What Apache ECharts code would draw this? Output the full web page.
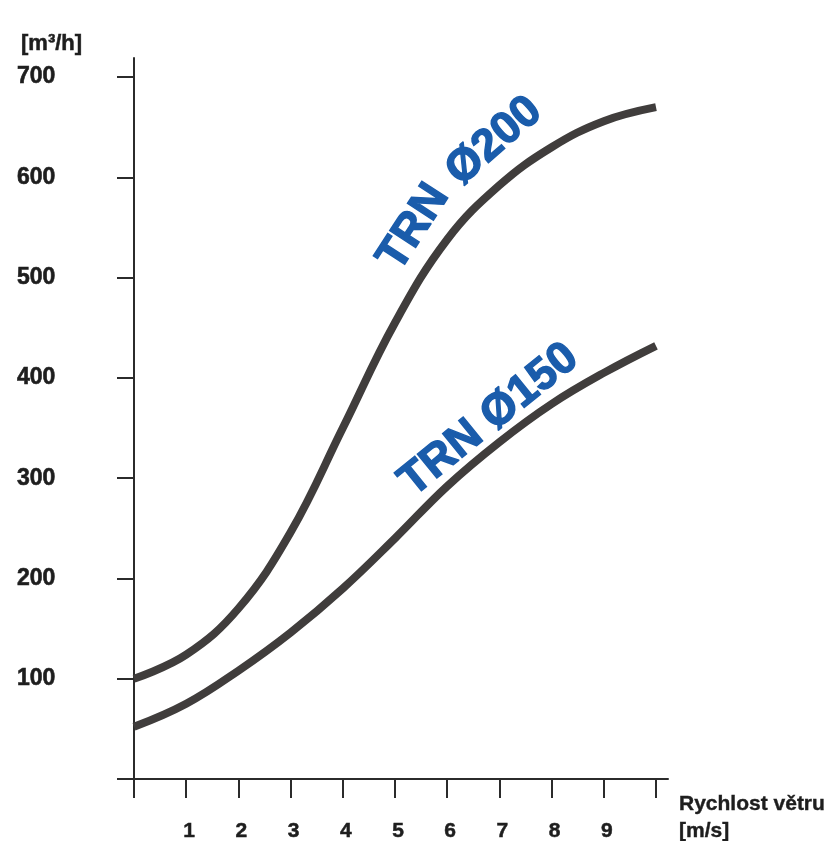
<!DOCTYPE html>
<html>
<head>
<meta charset="utf-8">
<script src="https://cdn.jsdelivr.net/npm/echarts@6/dist/echarts.min.js"></script>
<style>
html,body{margin:0;padding:0;background:#fff;}
#chart{width:833px;height:841px;}
</style>
</head>
<body>
<div id="chart"></div>
<script>
// wind speed [m/s]
var windSpeed = [0, 1, 2, 3, 4, 5, 6, 7, 8, 9, 10];
// air flow [m3/h]
var trn200 = [100, 124, 170, 246, 350, 455, 538, 592, 630, 656, 670];
var trn150 = [52, 75, 108, 146, 190, 240, 292, 336, 374, 405, 432];
var xTickValues = [0, 1, 2, 3, 4, 5, 6, 7, 8, 9, 10];
var xLabelValues = [1, 2, 3, 4, 5, 6, 7, 8, 9];
var yTickValues = [0, 100, 200, 300, 400, 500, 600, 700];
var yLabelValues = [100, 200, 300, 400, 500, 600, 700];
var yUnit = '[m³/h]';
var xName = 'Rychlost větru\n[m/s]';
// series labels along the curves: [text, x, y, rotation]
var label200 = [['TRN', 5.36, 550, 57], ['Ø200', 6.90, 636, 41]];
var label150 = [['TRN Ø150', 6.80, 358, 39]];

function pairs(xs, ys) { return xs.map(function (x, i) { return [x, ys[i]]; }); }
function marks(list) {
  return list.map(function (l) {
    return {
      coord: [l[1], l[2]], symbolSize: 0,
      label: {show: true, formatter: l[0], rotate: l[3], position: 'inside', align: 'center', verticalAlign: 'middle',
        color: '#1a5cab', fontSize: 45, fontWeight: 'bold', fontFamily: 'Liberation Sans',
        textBorderColor: '#1a5cab', textBorderWidth: 1.4}
    };
  });
}

var txt = '#1e1e1e';
var chart = echarts.init(document.getElementById('chart'), null, {renderer: 'canvas'});
var axisColor = '#2b2b2b';
chart.setOption({
  backgroundColor: '#ffffff',
  animation: false,
  title: {text: yUnit, left: 16, top: 28,
    textStyle: {fontSize: 22, fontWeight: 'bold', color: txt, fontFamily: 'Liberation Sans',
      textBorderColor: txt, textBorderWidth: 0.5}},
  grid: {left: 134, right: 165, top: 58, bottom: 62, containLabel: false, outerBoundsMode: 'none'},
  xAxis: {
    type: 'value', min: 0, max: 10.23,
    splitLine: {show: false},
    axisLine: {show: true, onZero: false, lineStyle: {color: axisColor, width: 2}},
    axisTick: {show: true, customValues: xTickValues, length: 19, inside: false, lineStyle: {color: axisColor, width: 2}},
    axisLabel: {customValues: xLabelValues, margin: 42, color: txt, fontSize: 21, fontWeight: 'bold',
      fontFamily: 'Liberation Sans', padding: [0, 0, 0, 6], textBorderColor: txt, textBorderWidth: 0.5},
    name: xName, nameLocation: 'end', nameGap: 11,
    nameTextStyle: {align: 'left', verticalAlign: 'top', fontSize: 21, fontWeight: 'bold', color: txt,
      fontFamily: 'Liberation Sans', lineHeight: 27, padding: [12, 0, 0, 0], textBorderColor: txt, textBorderWidth: 0.4}
  },
  yAxis: {
    type: 'value', min: 0, max: 719,
    splitLine: {show: false},
    axisLine: {show: true, onZero: false, lineStyle: {color: axisColor, width: 2}},
    axisTick: {show: true, customValues: yTickValues, length: 17, inside: false, lineStyle: {color: axisColor, width: 2}},
    axisLabel: {customValues: yLabelValues, margin: 117, align: 'left', color: txt, fontSize: 23, fontWeight: 'bold',
      fontFamily: 'Liberation Sans', textBorderColor: txt, textBorderWidth: 0.6}
  },
  series: [
    {type: 'line', name: 'TRN Ø200', data: pairs(windSpeed, trn200), smooth: 0.4, symbol: 'none',
      lineStyle: {color: '#403d3c', width: 8}, markPoint: {symbol: 'circle', data: marks(label200)}},
    {type: 'line', name: 'TRN Ø150', data: pairs(windSpeed, trn150), smooth: 0.4, symbol: 'none',
      lineStyle: {color: '#403d3c', width: 8}, markPoint: {symbol: 'circle', data: marks(label150)}}
  ]
});
</script>
</body>
</html>
